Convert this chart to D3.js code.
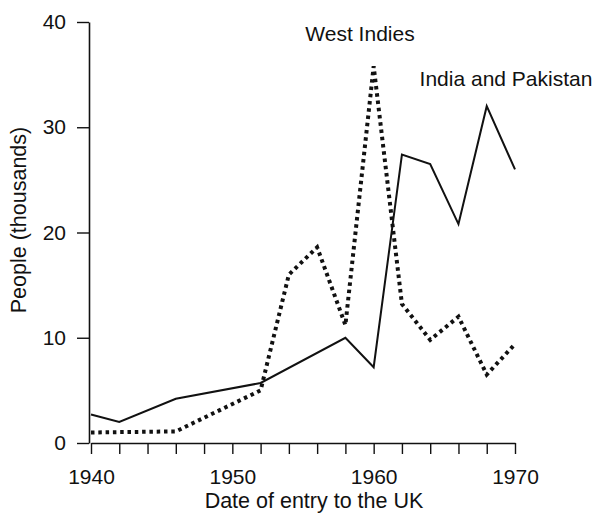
<html>
<head>
<script src="https://cdn.jsdelivr.net/npm/d3@7"></script>
<style>
  body { margin: 0; background: #fff; }
  text { font-family: "Liberation Sans", Arial, sans-serif; fill: #111; }
</style>
</head>
<body>
<svg width="599" height="515"></svg>
<script>
// data
var years = [1940, 1942, 1944, 1946, 1948, 1950, 1952, 1954, 1956, 1958, 1960, 1962, 1964, 1966, 1968, 1970];
var indiaYears = [1940, 1942, 1946, 1952, 1958, 1960, 1962, 1964, 1966, 1968, 1970];
var indiaValues = [2.7, 2.0, 4.2, 5.7, 10.0, 7.2, 27.4, 26.5, 20.8, 32.0, 26.0];
var westYears = [1940, 1946, 1952, 1954, 1956, 1958, 1960, 1962, 1964, 1966, 1968, 1970];
var westValues = [1.0, 1.1, 5.0, 16.0, 18.6, 11.2, 35.8, 13.2, 9.8, 12.0, 6.5, 9.4];
var yTicks = [0, 10, 20, 30, 40];
var xLabels = [1940, 1950, 1960, 1970];

var svg = d3.select("svg");
var x = d3.scaleLinear().domain([1940, 1970]).range([91, 515]);
var y = d3.scaleLinear().domain([0, 40]).range([443, 22]);

var yAxis = svg.append("g").attr("transform", "translate(89,0)")
    .call(d3.axisLeft(y).tickValues(yTicks).tickSize(12).tickPadding(11).tickSizeOuter(0));
var xAxis = svg.append("g").attr("transform", "translate(0,443)")
    .call(d3.axisBottom(x).tickValues(years).tickSize(11).tickPadding(15).tickSizeOuter(0)
        .tickFormat(d => xLabels.indexOf(d) >= 0 ? d : ""));

[yAxis, xAxis].forEach(a => {
    a.selectAll("path").attr("stroke", "#111").attr("stroke-width", 1.6);
    a.selectAll("line").attr("stroke", "#111").attr("stroke-width", 1.4);
    a.selectAll("text").style("font-size", "21px").attr("fill", "#111");
});

var line = d3.line().x(d => x(d[0])).y(d => y(d[1]));

svg.append("path")
    .datum(indiaYears.map((d, i) => [d, indiaValues[i]]))
    .attr("d", line)
    .attr("fill", "none").attr("stroke", "#111").attr("stroke-width", 2);

svg.append("path")
    .datum(westYears.map((d, i) => [d, westValues[i]]))
    .attr("d", line)
    .attr("fill", "none").attr("stroke", "#111").attr("stroke-width", 4)
    .attr("stroke-dasharray", "3.5,3.8");

svg.append("text").attr("x", 360).attr("y", 41).attr("text-anchor", "middle")
    .style("font-size", "21px").text("West Indies");
svg.append("text").attr("x", 506).attr("y", 86).attr("text-anchor", "middle")
    .style("font-size", "21px").text("India and Pakistan");

svg.append("text").attr("x", 314).attr("y", 508).attr("text-anchor", "middle")
    .style("font-size", "21.5px").text("Date of entry to the UK");
svg.append("text").attr("transform", "translate(26,220) rotate(-90)")
    .attr("text-anchor", "middle")
    .style("font-size", "21.5px").text("People (thousands)");
</script>
</body>
</html>
